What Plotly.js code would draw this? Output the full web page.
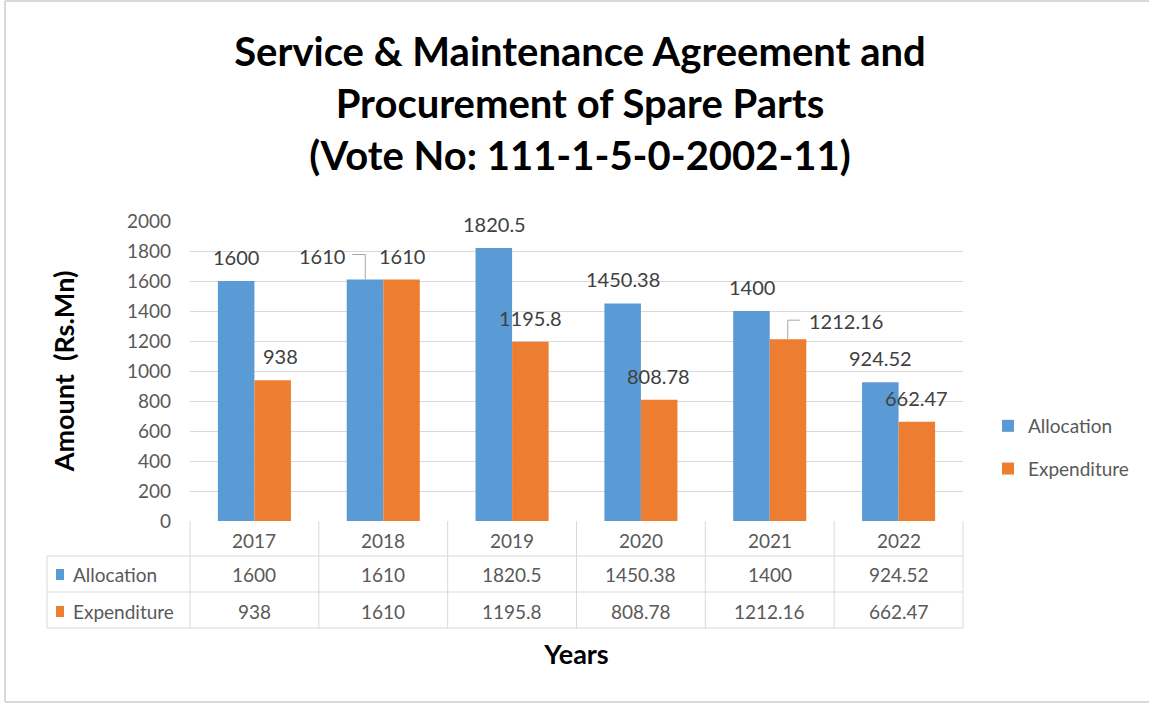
<!DOCTYPE html>
<html>
<head>
<meta charset="utf-8">
<script src="https://cdn.plot.ly/plotly-3.0.1.min.js"></script>
<style>html,body{margin:0;padding:0;background:#fff;overflow:hidden;}#chart{width:1149px;height:705px;}</style>
</head>
<body>
<div id="chart"></div>
<script>
// ---- data ----
const years = ['2017', '2018', '2019', '2020', '2021', '2022'];
const allocation = [1600, 1610, 1820.5, 1450.38, 1400, 924.52];
const expenditure = [938, 1610, 1195.8, 808.78, 1212.16, 662.47];
const seriesNames = ['Allocation', 'Expenditure'];
const titleLines = ['Service &amp; Maintenance Agreement and', 'Procurement of Spare Parts', '(Vote No: 111-1-5-0-2002-11)'];
const yTickValues = [0, 200, 400, 600, 800, 1000, 1200, 1400, 1600, 1800, 2000];

// ---- styling / positions (not data) ----
const colors = ['#5B9BD5', '#ED7D31'];
const FONT = 'Lato, "Open Sans", sans-serif';
const grid = '#D9D9D9';
const textGray = '#595959';
const W = 1149, H = 705;
const L = 190, R = 963, T = 221, B = 521;
const pw = R - L, ph = B - T;
const px2x = p => (p - L) / pw;
const px2y = p => (B - p) / ph;
// label offsets (pixels) relative to bar top / category center
const labelOffsets = [
  [[-18, 24], [26, 24]],
  [[-61, 24], [19, 24]],
  [[-18, 24], [18, 24]],
  [[-18, 24], [18, 24]],
  [[-18, 24], [76, 18]],
  [[-18, 24], [18, 24]]
];

const traces = [
  {type: 'bar', name: seriesNames[0], x: years, y: allocation, marker: {color: colors[0]}, legendgroup: 'a', hoverinfo: 'x+y'},
  {type: 'bar', name: seriesNames[1], x: years, y: expenditure, marker: {color: colors[1]}, legendgroup: 'b', hoverinfo: 'x+y'}
];

const annotations = [];
const shapes = [];
const series = [allocation, expenditure];

// data labels (x given as category index)
years.forEach((yr, i) => {
  series.forEach((vals, s) => {
    annotations.push({
      x: i, xref: 'x', y: vals[i], yref: 'y',
      text: String(vals[i]), showarrow: false,
      xshift: labelOffsets[i][s][0], yshift: labelOffsets[i][s][1],
      xanchor: 'center', yanchor: 'middle',
      font: {family: FONT, size: 20, color: '#404040'}
    });
  });
});
// leader lines (2018 allocation, 2021 expenditure)
shapes.push({type: 'path', xref: 'x', yref: 'y', xsizemode: 'pixel', ysizemode: 'pixel',
  xanchor: 1, yanchor: allocation[1], path: 'M-18,0 V25 H-31', line: {color: '#A6A6A6', width: 1}});
shapes.push({type: 'path', xref: 'x', yref: 'y', xsizemode: 'pixel', ysizemode: 'pixel',
  xanchor: 4, yanchor: expenditure[4], path: 'M18,0 V19 H30', line: {color: '#A6A6A6', width: 1}});

// data table
const rowCenters = [540, 574, 611];
const lineCol = '#D9D9D9';
[556, 592, 628].forEach(py => {
  shapes.push({type: 'line', xref: 'paper', yref: 'paper', x0: px2x(47), x1: 1, y0: px2y(py), y1: px2y(py), line: {color: lineCol, width: 1}});
});
for (let k = 0; k <= years.length; k++) {
  shapes.push({type: 'line', xref: 'paper', yref: 'paper', x0: k / years.length, x1: k / years.length, y0: 0, y1: px2y(628), line: {color: lineCol, width: 1}});
}
shapes.push({type: 'line', xref: 'paper', yref: 'paper', x0: px2x(47), x1: px2x(47), y0: px2y(556), y1: px2y(628), line: {color: lineCol, width: 1}});
years.forEach((yr, i) => {
  annotations.push({x: i, xref: 'x', y: px2y(rowCenters[0]), yref: 'paper', text: yr, showarrow: false,
    xanchor: 'center', yanchor: 'middle', font: {family: FONT, size: 19, color: textGray}});
  series.forEach((vals, s) => {
    annotations.push({x: i, xref: 'x', y: px2y(rowCenters[s + 1]), yref: 'paper', text: String(vals[i]), showarrow: false,
      xanchor: 'center', yanchor: 'middle', font: {family: FONT, size: 19, color: textGray}});
  });
});
seriesNames.forEach((nm, s) => {
  const cy = rowCenters[s + 1];
  shapes.push({type: 'rect', xref: 'paper', yref: 'paper', x0: px2x(56), x1: px2x(64), y0: px2y(cy + 6), y1: px2y(cy - 5),
    fillcolor: colors[s], line: {width: 0}});
  annotations.push({x: px2x(71), xref: 'paper', y: px2y(cy), yref: 'paper', text: nm, showarrow: false,
    xanchor: 'left', yanchor: 'middle', font: {family: FONT, size: 19, color: textGray}});
});

// outer chart border: left, top and bottom edges (right edge runs off the picture)
const borderLines = [
  [5, 1, 5, 702],
  [5, 1, 1149, 1],
  [5, 702, 1149, 702]
];
borderLines.forEach(b => {
  shapes.push({type: 'line', xref: 'paper', yref: 'paper', x0: px2x(b[0]), y0: px2y(b[1]), x1: px2x(b[2]), y1: px2y(b[3]),
    line: {color: '#D9D9D9', width: 2}, layer: 'below'});
});

const layout = {
  width: W, height: H,
  margin: {l: L, r: W - R, t: T, b: H - B, pad: 0},
  paper_bgcolor: '#fff', plot_bgcolor: '#fff',
  title: {
    text: titleLines.join('<br>'),
    font: {family: FONT, size: 40, color: '#000', weight: 'bold'},
    xref: 'container', x: 580 / W, xanchor: 'center',
    yref: 'container', y: 1 - 66 / H, yanchor: 'top'
  },
  barmode: 'group', bargap: 0.433, bargroupgap: 0,
  xaxis: {
    type: 'category', range: [-0.5, years.length - 0.5], showticklabels: false, ticks: '', showgrid: false, zeroline: false,
    showline: false, fixedrange: true,
    title: {text: 'Years', font: {family: FONT, size: 27, color: '#000', weight: 'bold'}, standoff: 124}
  },
  yaxis: {
    range: [0, 2000], tickvals: yTickValues, ticktext: yTickValues.map(String),
    showgrid: true, gridcolor: grid, gridwidth: 1, zeroline: false, showline: false,
    ticks: '', ticklabelstandoff: 18,
    tickfont: {family: FONT, size: 19, color: textGray},
    title: {text: 'Amount  (Rs.Mn)', font: {family: FONT, size: 27, color: '#000', weight: 'bold'}, standoff: 44},
    fixedrange: true
  },
  showlegend: true,
  legend: {
    x: px2x(988), xanchor: 'left', y: px2y(407), yanchor: 'top',
    traceorder: 'grouped', tracegroupgap: 15,
    font: {family: FONT, size: 19, color: textGray},
    bgcolor: 'rgba(0,0,0,0)', itemwidth: 30
  },
  annotations: annotations,
  shapes: shapes
};

Plotly.newPlot('chart', traces, layout, {displayModeBar: false, staticPlot: true});
</script>
</body>
</html>
